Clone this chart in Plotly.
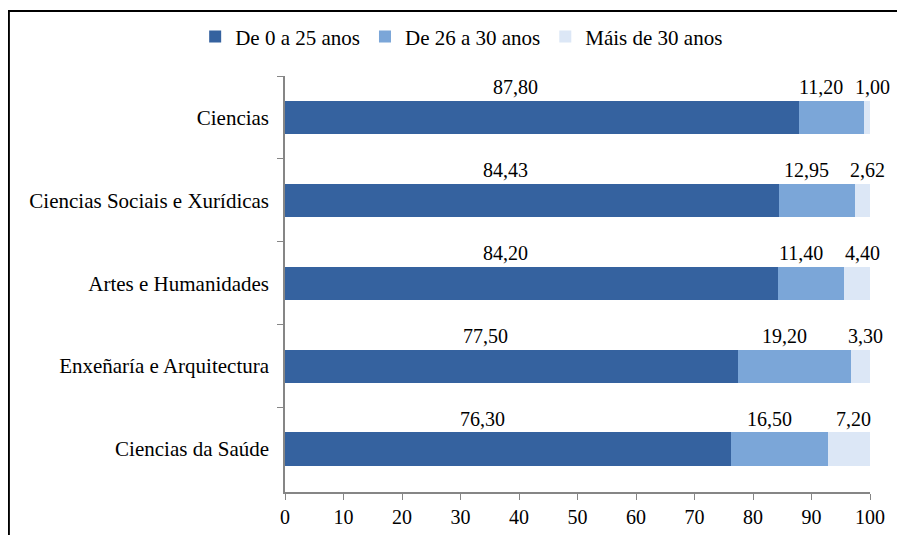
import plotly.graph_objects as go

# Data (percent)
categories = [
    "Ciencias",
    "Ciencias Sociais e Xurídicas",
    "Artes e Humanidades",
    "Enxeñaría e Arquitectura",
    "Ciencias da Saúde",
]
series_names = ["De 0 a 25 anos", "De 26 a 30 anos", "Máis de 30 anos"]
age_0_25 = [87.80, 84.43, 84.20, 77.50, 76.30]
age_26_30 = [11.20, 12.95, 11.40, 19.20, 16.50]
age_30_plus = [1.00, 2.62, 4.40, 3.30, 7.20]
x_ticks = [0, 10, 20, 30, 40, 50, 60, 70, 80, 90, 100]

colors = ["#35629f", "#7ba6d8", "#dce7f6"]
font_family = "Liberation Serif"

series = [age_0_25, age_26_30, age_30_plus]

fig = go.Figure()
for name, values, color in zip(series_names, series, colors):
    fig.add_trace(go.Bar(
        y=categories,
        x=values,
        name=name,
        orientation="h",
        marker=dict(color=color, line=dict(width=0)),
        width=0.4,
    ))

# value labels above each segment
x_shifts = [-26, -10, 5]
for i, cat in enumerate(categories):
    start = 0
    for s, values in enumerate(series):
        v = values[i]
        fig.add_annotation(
            x=start + v / 2,
            y=cat,
            text=f"{v:.2f}".replace(".", ","),
            showarrow=False,
            yanchor="bottom",
            yshift=17,
            xshift=x_shifts[s],
            font=dict(family=font_family, size=20, color="black"),
        )
        start += v

# outer frame
fig.add_shape(
    type="rect", xref="paper", yref="paper",
    x0=-0.472, x1=1.053, y0=-0.2, y1=1.156,
    line=dict(color="black", width=2),
    layer="below",
)

# the page adds an 8px body margin, so the figure is a little smaller
fig.update_layout(
    width=897,
    height=527,
    barmode="stack",
    plot_bgcolor="white",
    paper_bgcolor="white",
    margin=dict(l=277, r=35, t=68, b=43, autoexpand=False),
    font=dict(family=font_family, size=20, color="black"),
    legend=dict(
        orientation="h",
        traceorder="normal",
        x=0.302, xanchor="center",
        y=1.094, yanchor="middle",
        bgcolor="rgba(0,0,0,0)",
        font=dict(family=font_family, size=21),
        itemwidth=30,
    ),
    showlegend=True,
)

fig.update_xaxes(
    range=[0, 100],
    tickvals=x_ticks,
    ticks="outside",
    ticklen=6,
    tickcolor="#868686",
    showline=True,
    linecolor="#868686",
    linewidth=1.5,
    showgrid=False,
    zeroline=False,
    tickfont=dict(family=font_family, size=20),
)

fig.update_yaxes(
    autorange="reversed",
    ticks="outside",
    tickson="boundaries",
    ticklen=6,
    tickcolor="#868686",
    showline=True,
    linecolor="#868686",
    linewidth=1.5,
    showgrid=False,
    ticklabelstandoff=10,
    tickfont=dict(family=font_family, size=21),
)

fig.write_html("out.html")
